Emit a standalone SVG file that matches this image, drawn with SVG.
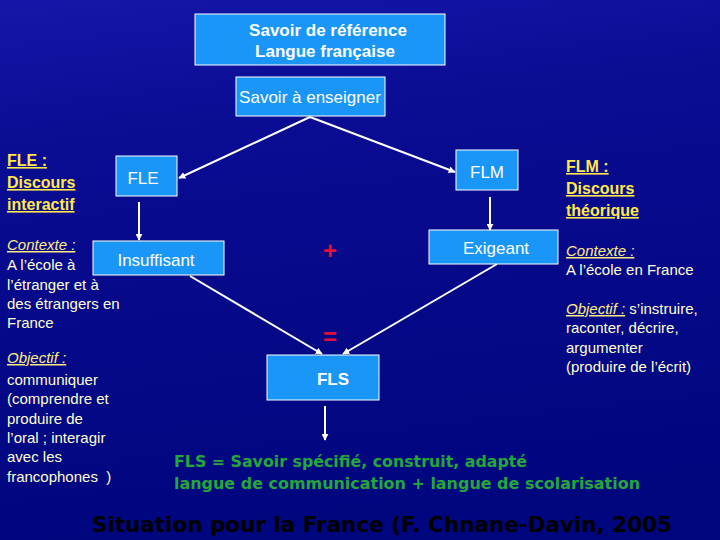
<svg xmlns="http://www.w3.org/2000/svg" width="720" height="540" viewBox="0 0 720 540">
<defs>
<linearGradient id="bg" x1="0" y1="0" x2="0.15" y2="1">
<stop offset="0" stop-color="#1616a8"/>
<stop offset="0.28" stop-color="#0a0c92"/>
<stop offset="1" stop-color="#00067e"/>
</linearGradient>
<marker id="ah" viewBox="0 0 10 10" refX="9" refY="5" markerWidth="7" markerHeight="7" orient="auto" markerUnits="userSpaceOnUse">
<path d="M0,0 L10,5 L0,10 z" fill="#ffffff"/>
</marker>
<style>
.box{fill:#1a96f8;stroke:#ffffff;stroke-width:1}
.bt{font-family:"Liberation Sans",Arial,sans-serif;fill:#ffffff;font-size:17px;text-anchor:middle}
.b{font-weight:bold}
.conn{stroke:#ffffff;stroke-width:2;fill:none;marker-end:url(#ah)}
.hd{font-family:"Liberation Sans",Arial,sans-serif;font-weight:bold;font-size:16px;fill:#ffe84a;text-decoration:underline}
.lab{font-family:"Liberation Sans",Arial,sans-serif;font-size:15px;fill:#ffffd0}
.it{font-style:italic;text-decoration:underline;fill:#ffec80}
.op{font-family:"Liberation Sans",Arial,sans-serif;font-weight:bold;font-size:24px;fill:#e0103a;text-anchor:middle}
.gr{font-family:"DejaVu Sans",Verdana,sans-serif;font-weight:bold;font-size:15px;fill:#22a83a}
</style>
</defs>
<rect width="720" height="540" fill="url(#bg)"/>
<g id="connectors">
<path class="conn" d="M310,117 L179,178"/>
<path class="conn" d="M310,117 L455,172"/>
<path class="conn" d="M139,202 L139,240"/>
<path class="conn" d="M490,197 L490,230"/>
<path class="conn" d="M190,276 L322,354"/>
<path class="conn" d="M497,264 L343,354"/>
<path class="conn" d="M325,406 L325,440"/>
</g>
<g id="savoir-reference">
<rect class="box" x="195" y="14" width="250" height="51"/>
<text class="bt b" x="328" y="36">Savoir de référence</text>
<text class="bt b" x="325" y="57">Langue française</text>
</g>
<g id="savoir-enseigner">
<rect class="box" x="236" y="77" width="149" height="39"/>
<text class="bt" x="310" y="103" font-size="16">Savoir à enseigner</text>
</g>
<g id="fle">
<rect class="box" x="116" y="156" width="61" height="40"/>
<text class="bt" x="143" y="184">FLE</text>
</g>
<g id="flm">
<rect class="box" x="456" y="150" width="62" height="40"/>
<text class="bt" x="487" y="178">FLM</text>
</g>
<g id="insuffisant">
<rect class="box" x="93" y="241" width="131" height="34"/>
<text class="bt" x="156" y="266">Insuffisant</text>
</g>
<g id="exigeant">
<rect class="box" x="429" y="230" width="129" height="34"/>
<text class="bt" x="496" y="254">Exigeant</text>
</g>
<g id="fls">
<rect class="box" x="267" y="355" width="112" height="45"/>
<text class="bt b" x="333" y="385">FLS</text>
</g>
<g id="operators">
<text class="op" x="330" y="259">+</text>
<text class="op" x="330" y="345">=</text>
</g>
<g id="fle-text">
<text class="hd" x="7" y="166">FLE :</text>
<text class="hd" x="7" y="188">Discours</text>
<text class="hd" x="7" y="210">interactif</text>
<text class="lab it" x="7" y="250">Contexte :</text>
<text class="lab" x="7" y="270">A l’école à</text>
<text class="lab" x="7" y="290">l’étranger et à</text>
<text class="lab" x="7" y="309">des étrangers en</text>
<text class="lab" x="7" y="328">France</text>
<text class="lab it" x="7" y="363">Objectif :</text>
<text class="lab" x="7" y="385">communiquer</text>
<text class="lab" x="7" y="404">(comprendre et</text>
<text class="lab" x="7" y="424">produire de</text>
<text class="lab" x="7" y="443">l’oral ; interagir</text>
<text class="lab" x="7" y="462">avec les</text>
<text class="lab" x="7" y="482" xml:space="preserve">francophones  )</text>
</g>
<g id="flm-text">
<text class="hd" x="566" y="172">FLM :</text>
<text class="hd" x="566" y="194">Discours</text>
<text class="hd" x="566" y="216">théorique</text>
<text class="lab" x="566" y="256"><tspan class="it">Contexte :</tspan></text>
<text class="lab" x="566" y="275">A l’école en France</text>
<text class="lab" x="566" y="314"><tspan class="it">Objectif :</tspan> s’instruire,</text>
<text class="lab" x="566" y="333">raconter, décrire,</text>
<text class="lab" x="566" y="353">argumenter</text>
<text class="lab" x="566" y="372">(produire de l’écrit)</text>
</g>
<g id="fls-definition">
<text class="gr" x="174" y="467" textLength="353" lengthAdjust="spacingAndGlyphs">FLS = Savoir spécifié, construit, adapté</text>
<text class="gr" x="174" y="489" textLength="466" lengthAdjust="spacingAndGlyphs">langue de communication + langue de scolarisation</text>
</g>
<text x="92" y="532" font-family="'DejaVu Sans',Verdana,sans-serif" font-weight="bold" font-size="22" fill="#000000" textLength="580" lengthAdjust="spacingAndGlyphs">Situation pour la France (F. Chnane-Davin, 2005</text>
</svg>
